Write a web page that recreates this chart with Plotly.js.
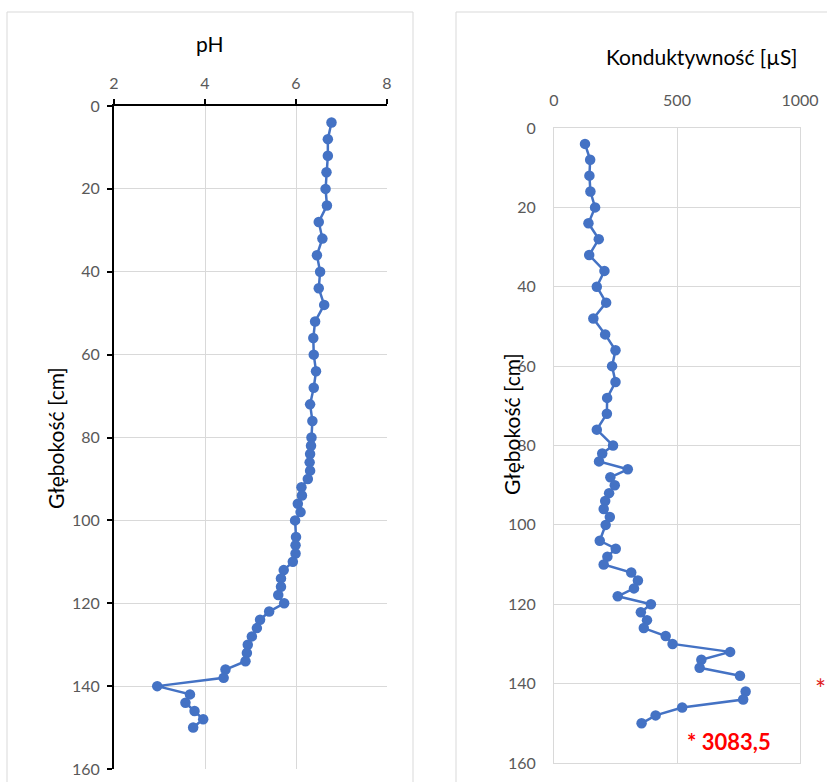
<!DOCTYPE html>
<html>
<head>
<meta charset="utf-8">
<script src="https://cdn.plot.ly/plotly-3.0.1.min.js"></script>
<style>html,body{margin:0;padding:0;background:#fff;}#chart{width:827px;height:782px;}</style>
</head>
<body>
<div id="chart"></div>
<script>
// Depth of each sample [cm]
const depth = [4,8,12,16,20,24,28,32,36,40,44,48,52,56,60,64,68,72,76,80,
  82,84,86,88,90,92,94,96,98,100,
  104,106,108,110,112,114,116,118,120,122,124,126,128,130,132,134,136,138,140,142,144,146,148,150];

// pH values
const ph = [6.78,6.70,6.70,6.67,6.65,6.68,6.50,6.58,6.46,6.53,6.50,6.62,6.42,6.38,6.39,6.44,6.39,6.31,6.36,6.34,
  6.33,6.31,6.30,6.31,6.26,6.12,6.13,6.04,6.10,5.98,
  6.00,5.99,5.99,5.93,5.73,5.67,5.67,5.61,5.74,5.41,5.21,5.14,5.03,4.94,4.92,4.89,4.45,4.41,2.95,3.67,3.57,3.77,3.96,3.74];

// Conductivity values [µS]
const conductivity = [126,147,144,148,167,140,182,143,205,174,212,160,208,250,236,250,216,215,174,240,
  196,183,300,229,247,224,208,202,227,210,
  186,251,217,202,314,341,325,259,394,353,378,365,454,482,716,599,592,756,3083.5,779,769,521,413,356];

// Axis ticks
const phTicks = [2,4,6,8];
const condTicks = [0,500,1000];
const depthTicks = [0,20,40,60,80,100,120,140,160];

const W = 827, H = 782;
const px = v => v / W;
const py = v => 1 - v / H;

const condMax = 1000;
const condPlot = conductivity.map(v => v > condMax ? null : v);
const outliers = conductivity.map((v, i) => ({v, d: depth[i]})).filter(o => o.v > condMax);

const blue = '#4472C4';
const FONT = 'Lato, "Open Sans", sans-serif';
const tickFont = {family: FONT, size: 16, color: '#595959'};
const grid = '#d9d9d9';

const traces = [
  {x: ph, y: depth, xaxis: 'x', yaxis: 'y', type: 'scatter', mode: 'lines+markers',
   line: {color: blue, width: 2.5}, marker: {color: blue, size: 10.5}, hoverinfo: 'x+y'},
  {x: condPlot, y: depth, xaxis: 'x2', yaxis: 'y2', type: 'scatter', mode: 'lines+markers',
   connectgaps: false,
   line: {color: blue, width: 2.5}, marker: {color: blue, size: 10.5}, hoverinfo: 'x+y'}
];

const annotations = [
  {text: 'pH', x: px(210), y: py(43), xref: 'paper', yref: 'paper', showarrow: false,
   font: {family: FONT, size: 21, color: '#000'}, xanchor: 'center', yanchor: 'middle'},
  {text: 'Konduktywność [µS]', x: px(702), y: py(57), xref: 'paper', yref: 'paper', showarrow: false,
   font: {family: FONT, size: 21, color: '#000'}, xanchor: 'center', yanchor: 'middle'},
  {text: 'Głębokość [cm]', x: px(55), y: py(438), xref: 'paper', yref: 'paper', showarrow: false,
   textangle: -90, font: {family: FONT, size: 21, color: '#000'}, xanchor: 'center', yanchor: 'middle'},
  {text: 'Głębokość [cm]', x: px(511), y: py(424), xref: 'paper', yref: 'paper', showarrow: false,
   textangle: -90, font: {family: FONT, size: 21, color: '#000'}, xanchor: 'center', yanchor: 'middle'}
];
outliers.forEach(o => {
  annotations.push({text: '*', x: px(820), y: o.d, xref: 'paper', yref: 'y2', yshift: -5, showarrow: false,
    font: {family: FONT, size: 26, color: '#E02020'}, xanchor: 'center', yanchor: 'middle'});
  annotations.push({text: '<b>* ' + String(o.v).replace('.', ',') + '</b>', x: px(729), y: py(741),
    xref: 'paper', yref: 'paper', showarrow: false,
    font: {family: FONT, size: 22, color: '#FF0000'}, xanchor: 'center', yanchor: 'middle'});
});

const layout = {
  width: W, height: H,
  margin: {l: 0, r: 0, t: 0, b: 0},
  paper_bgcolor: '#fff', plot_bgcolor: '#fff',
  showlegend: false,
  font: {family: FONT},
  xaxis: {domain: [px(114), px(387)], anchor: 'y', side: 'top', range: [2, 8],
    tickvals: phTicks, showgrid: true, gridcolor: grid, gridwidth: 1, zeroline: false,
    showline: true, linecolor: '#000', linewidth: 2, ticks: 'outside', ticklen: 5, tickwidth: 2,
    tickcolor: '#000', tickfont: tickFont, ticklabelstandoff: 4, fixedrange: true},
  yaxis: {domain: [py(769), py(106)], anchor: 'x', range: [160, 0],
    tickvals: depthTicks, showgrid: true, gridcolor: grid, gridwidth: 1, zeroline: false,
    showline: true, linecolor: '#000', linewidth: 2, ticks: 'outside', ticklen: 5, tickwidth: 2,
    tickcolor: '#000', tickfont: tickFont, ticklabelstandoff: 4, fixedrange: true},
  xaxis2: {domain: [px(554), px(800)], anchor: 'y2', side: 'top', range: [0, condMax],
    tickvals: condTicks, showgrid: true, gridcolor: grid, gridwidth: 1, zeroline: false,
    showline: true, mirror: true, linecolor: grid, linewidth: 1, ticks: '',
    tickfont: tickFont, ticklabelstandoff: 15, fixedrange: true},
  yaxis2: {domain: [py(763), py(128)], anchor: 'x2', range: [160, 0],
    tickvals: depthTicks, showgrid: true, gridcolor: grid, gridwidth: 1, zeroline: false,
    showline: true, mirror: true, linecolor: grid, linewidth: 1, ticks: '',
    tickfont: tickFont, ticklabelstandoff: 14, fixedrange: true},
  shapes: [
    {type: 'rect', xref: 'paper', yref: 'paper', x0: px(7), x1: px(413), y0: py(800), y1: py(12),
     line: {color: grid, width: 1}, fillcolor: 'rgba(0,0,0,0)', layer: 'below'},
    {type: 'rect', xref: 'paper', yref: 'paper', x0: px(456), x1: px(840), y0: py(800), y1: py(12),
     line: {color: grid, width: 1}, fillcolor: 'rgba(0,0,0,0)', layer: 'below'}
  ],
  annotations: annotations
};

Plotly.newPlot('chart', traces, layout, {displayModeBar: false, staticPlot: true});
</script>
</body>
</html>
